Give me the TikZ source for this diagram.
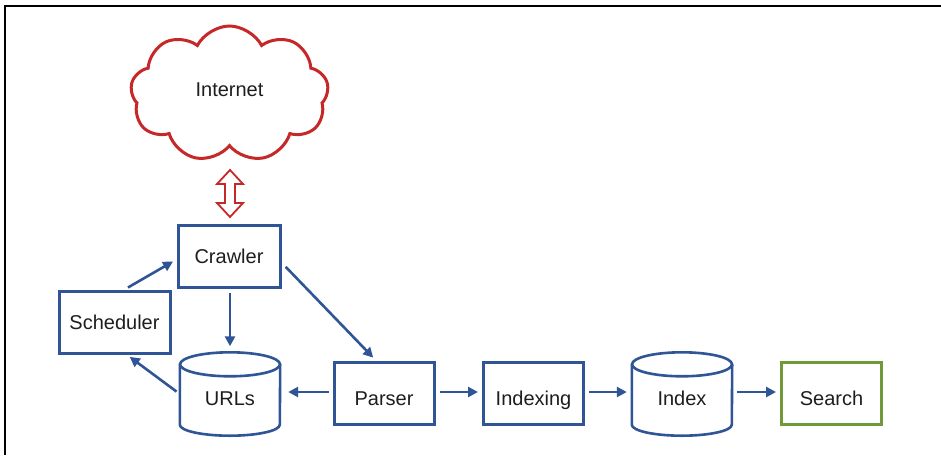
\documentclass[tikz,border=0pt]{standalone}
\usepackage{fontspec}
\setmainfont{Liberation Sans}
\usetikzlibrary{arrows.meta,shapes.symbols,calc}
\definecolor{bblue}{RGB}{47,85,151}
\definecolor{cred}{RGB}{198,40,40}
\definecolor{sgreen}{RGB}{112,153,58}
\definecolor{txt}{RGB}{30,30,30}
\newcommand\mycyl[1]{%
  \draw[cylline] ([yshift=-12pt]#1.north west) -- ([yshift=11pt]#1.south west)
    arc[start angle=180, end angle=360, x radius=50pt, y radius=11pt]
    -- ([yshift=-12pt]#1.north east);
  \draw[cylline] ([yshift=-12pt]#1.north) ellipse[x radius=50pt, y radius=12pt];}
\begin{document}
\begin{tikzpicture}[x=1pt,y=-1pt,
  every node/.style={font=\fontsize{20}{23}\selectfont, text=txt},
  box/.style={draw=bblue, line width=3pt, fill=white, minimum height=62pt, inner sep=0pt},
  topbox/.style={box, text height=14pt, text depth=0pt},
  lowbox/.style={box, text height=24pt, text depth=0pt},
  cylbox/.style={minimum width=100pt, minimum height=83pt, inner sep=0pt, text height=22.6pt, text depth=0pt},
  cylline/.style={draw=bblue, line width=2.6pt},
  conn/.style={draw=bblue, line width=2.6pt, -{Triangle[length=10pt,width=10pt]}, shorten <=4pt, shorten >=4pt}]
\useasboundingbox (0,0) rectangle (941,455);
\fill[white] (0,0) rectangle (941,455);
\draw[line width=1.4pt] (5,455) -- (5,6) -- (941,6);

\node[cloud, cloud puffs=9, cloud puff arc=125, cloud ignores aspect, draw=cred, line width=3pt,
      minimum width=198pt, minimum height=136pt, inner sep=0pt,
      text height=5pt, text depth=0pt] (internet) at (229.5,94) {Internet};

\node[topbox, minimum width=102pt] (crawler) at (229,256.5) {Crawler};
\node[topbox, minimum width=111pt] (sched) at (114.5,322) {Scheduler};
\node[cylbox] (urls) at (230,394) {URLs};
\node[lowbox, minimum width=100pt] (parser) at (384,393) {Parser};
\node[lowbox, minimum width=100pt] (indexing) at (533.5,393) {Indexing};
\node[cylbox] (index) at (682,394) {Index};
\node[lowbox, draw=sgreen, minimum width=100pt] (search) at (831.5,393) {Search};
\mycyl{urls}
\mycyl{index}

% double arrow between Internet and Crawler
\draw[draw=cred, line width=1.8pt, line join=miter]
  (230,170) -- (243,184) -- (235,184) -- (235,203) -- (243,203) -- (230,217)
  -- (217,203) -- (225,203) -- (225,184) -- (217,184) -- cycle;

\draw[conn] ([xshift=10pt]sched.north) -- ([yshift=-3pt]crawler.west);
\draw[conn, shorten >=6pt] ([xshift=1pt]crawler.south) -- (urls.north);
\draw[conn, shorten <=6pt] ([yshift=-6pt]crawler.east) -- ([xshift=-8pt]parser.north);
\draw[conn] (urls.west) -- ([xshift=12pt]sched.south);
\draw[conn, shorten >=8pt] ([yshift=1pt]parser.west) -- ([yshift=2pt]urls.east);
\draw[conn] ([yshift=1pt]parser.east) -- ([yshift=1pt]indexing.west);
\draw[conn, shorten >=5pt] ([yshift=1pt]indexing.east) -- ([yshift=2pt]index.west);
\draw[conn, shorten <=5pt] ([yshift=2pt]index.east) -- ([yshift=1pt]search.west);
\end{tikzpicture}
\end{document}
